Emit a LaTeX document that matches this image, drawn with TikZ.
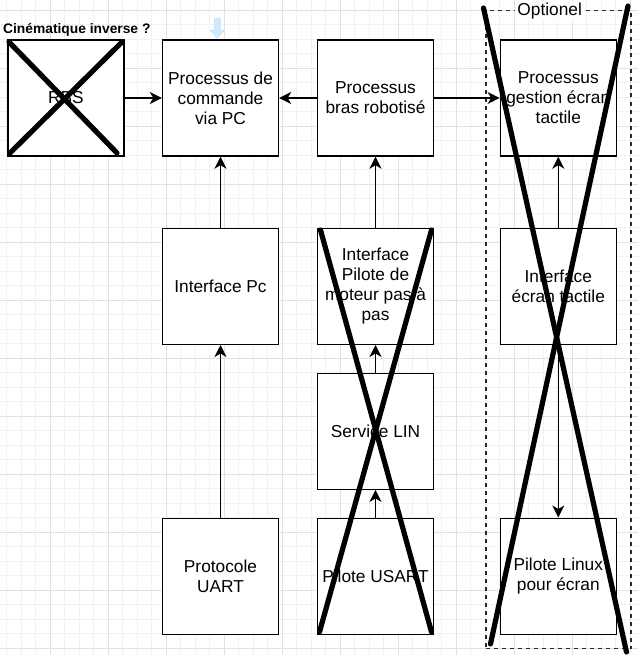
\documentclass[tikz,border=0pt]{standalone}
\usepackage{fontspec}
\setmainfont{Liberation Sans}
\usetikzlibrary{arrows.meta}
\definecolor{gridlo}{RGB}{241,241,241}
\definecolor{gridhi}{RGB}{225,225,225}
\definecolor{hoverblue}{RGB}{206,233,252}
\definecolor{dashgray}{RGB}{40,40,40}
\begin{document}
\begin{tikzpicture}[x=1pt,y=-1pt,
  blk/.style={draw=black, line width=1.4pt, fill=white, minimum width=116pt,
    minimum height=116pt, inner sep=0pt, align=center,
    font=\fontsize{17.3}{20}\selectfont},
  flow/.style={line width=1.5pt, -{Stealth[length=12pt,width=12pt,inset=3.5pt]}},
  strike/.style={line width=5.2pt, line cap=round},
  gridminor/.style={line width=0.8pt, draw=gridlo},
  gridmajor/.style={line width=1pt, draw=gridhi},
  optbox/.style={draw=dashgray, line width=1.4pt, dash pattern=on 4pt off 4pt,
    minimum width=145pt, minimum height=638pt, inner sep=0pt}]

\useasboundingbox (0,0) rectangle (638,655);
\fill[white] (0,0) rectangle (638,655);

% background grid
\foreach \i in {0,...,43} \draw[gridminor] ({6.8+\i*14.5},0) -- ++(0,655);
\foreach \i in {0,...,44} \draw[gridminor] (0,{10.3+\i*14.5}) -- ++(638,0);
\foreach \i in {1,...,11} \draw[gridmajor] ({-7.7+\i*58},0) -- ++(0,655);
\foreach \i in {0,...,11} \draw[gridmajor] (0,{10.3+\i*58}) -- ++(638,0);

% optional part frame
\node[optbox] (opt) at (558.3,329.5) {};
\node[fill=white, inner sep=2pt, font=\fontsize{17.3}{20}\selectfont] (optlbl) at (549.7,11) {Optionel};

% hover marker above the PC command block
\fill[hoverblue] (213.8,18) -- (220.8,18) -- (220.8,30) -- (225,30) -- (217.3,39)
  -- (209.6,30) -- (213.8,30) -- cycle;

% heading
\node[anchor=west, inner sep=0pt, font=\fontsize{13.8}{16}\selectfont\bfseries] (title) at (3,30) {Cinématique inverse ?};

% blocks
\node[blk] (rbs)   at (66,98)      {RBS};
\node[blk] (cmd)   at (220.5,98)   {Processus de\\commande\\via PC};
\node[blk] (bras)  at (375.5,98)   {Processus\\bras robotisé};
\node[blk] (gest)  at (558.3,98)   {Processus\\gestion écran\\tactile};
\node[blk] (ipc)   at (220.5,286.3) {Interface Pc};
\node[blk] (ipil)  at (375.5,286.3) {Interface\\Pilote de\\moteur pas à\\pas};
\node[blk] (iecr)  at (558.3,286.3) {Interface\\écran tactile};
\node[blk] (lin)   at (375.5,431.2) {Service LIN};
\node[blk] (uart)  at (220.5,576.2) {Protocole\\UART};
\node[blk] (usart) at (375.5,576.2) {Pilote USART};
\node[blk] (linux) at (558.3,576.2) {Pilote Linux\\pour écran};

% connectors
\draw[flow] (rbs) -- (cmd);
\draw[flow] (bras) -- (cmd);
\draw[flow] (bras) -- (gest);
\draw[flow] (ipc) -- (cmd);
\draw[flow] (uart) -- (ipc);
\draw[flow] (ipil) -- (bras);
\draw[flow] (lin) -- (ipil);
\draw[flow] (usart) -- (lin);
\draw[flow] (iecr) -- (gest);
\draw[flow] (iecr) -- (linux);

% strike-through marks
\coordinate (rbsA) at (9,42);
\coordinate (rbsB) at (117,153);
\coordinate (rbsC) at (10,153);
\coordinate (rbsD) at (122,42);
\draw[strike] (rbsA) -- (rbsB);
\draw[strike] (rbsC) -- (rbsD);

\coordinate (drvA) at (320.5,230);
\coordinate (drvB) at (431.5,632);
\coordinate (drvC) at (431.5,230);
\coordinate (drvD) at (319.5,632);
\draw[strike] (drvA) -- (drvB);
\draw[strike] (drvC) -- (drvD);

\coordinate (optA) at (483.5,8);
\coordinate (optB) at (626.5,652);
\coordinate (optC) at (628,6);
\coordinate (optD) at (490.5,644);
\draw[strike] (optA) -- (optB);
\draw[strike] (optC) -- (optD);
\end{tikzpicture}
\end{document}
